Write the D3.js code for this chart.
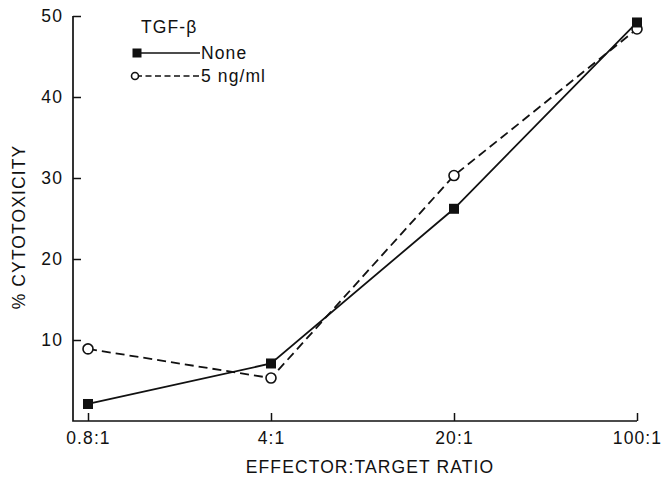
<!DOCTYPE html>
<html>
<head>
<meta charset="utf-8">
<script src="https://cdn.jsdelivr.net/npm/d3@7"></script>
<style>
  body { margin: 0; background: #fff; }
  svg { display: block; font-family: "Liberation Sans", Arial, Helvetica, sans-serif; }
</style>
</head>
<body>
<svg id="chart"></svg>
<script>
const width = 663;
const height = 481;

// categories on the x axis
const ratios = ["0.8:1", "4:1", "20:1", "100:1"];
// % cytotoxicity
const noneValues = [2.1, 7.1, 26.2, 49.2];
const tgfValues = [8.9, 5.3, 30.3, 48.4];
const yTicks = [10, 20, 30, 40, 50];

const series = [
  { name: "None", values: noneValues, dash: null, marker: "square" },
  { name: "5 ng/ml", values: tgfValues, dash: "9,5", marker: "circle" }
];

const fontSize = 17.5;
const spacing = 1.1;

const margin = { left: 73, top: 16, right: 26, bottom: 61 };

const svg = d3.select("#chart")
  .attr("width", width)
  .attr("height", height)
  .attr("viewBox", [0, 0, width, height]);

// x is a point scale, the axis starts a bit left of the first point
const x = d3.scalePoint()
  .domain(ratios)
  .range([88, 637]);

const y = d3.scaleLinear()
  .domain([0, 50])
  .range([height - margin.bottom + 1, margin.top]);

const x0 = margin.left;
const yBase = y(0);

// ---- axes ----
const xAxis = svg.append("g")
  .attr("transform", `translate(0,${yBase})`)
  .call(d3.axisBottom(x).tickSizeInner(-8).tickSizeOuter(0).tickPadding(11));
xAxis.select(".domain").remove();

const yAxis = svg.append("g")
  .attr("transform", `translate(${x0},0)`)
  .call(d3.axisLeft(y).tickValues(yTicks).tickSizeInner(-8).tickSizeOuter(0).tickPadding(10));
yAxis.select(".domain").remove();

svg.selectAll(".tick line").attr("stroke", "#111").attr("stroke-width", 1.5);
svg.selectAll(".tick text")
  .attr("fill", "#111")
  .attr("font-size", fontSize)
  .attr("letter-spacing", spacing)
  .attr("font-family", "Liberation Sans, Arial, sans-serif");

// axis lines
svg.append("path")
  .attr("d", `M${x0},${y(50)}V${yBase}H${x(ratios[ratios.length - 1])}`)
  .attr("fill", "none")
  .attr("stroke", "#111")
  .attr("stroke-width", 1.7);

// axis titles
svg.append("text")
  .attr("x", 370)
  .attr("y", 473)
  .attr("text-anchor", "middle")
  .attr("font-size", fontSize)
  .attr("letter-spacing", spacing)
  .attr("fill", "#111")
  .text("EFFECTOR:TARGET RATIO");

svg.append("text")
  .attr("transform", `translate(25,${227}) rotate(-90)`)
  .attr("text-anchor", "middle")
  .attr("font-size", fontSize)
  .attr("letter-spacing", spacing)
  .attr("fill", "#111")
  .text("% CYTOTOXICITY");

// ---- lines ----
const line = d3.line()
  .x((d, i) => x(ratios[i]))
  .y(d => y(d));

series.forEach(s => {
  svg.append("path")
    .datum(s.values)
    .attr("d", line)
    .attr("fill", "none")
    .attr("stroke", "#111")
    .attr("stroke-width", 1.8)
    .attr("stroke-dasharray", s.dash);
});

// ---- markers ----
function drawMarker(g, type, cx, cy, size) {
  if (type === "square") {
    g.append("rect")
      .attr("x", cx - size / 2)
      .attr("y", cy - size / 2)
      .attr("width", size)
      .attr("height", size)
      .attr("fill", "#111");
  } else {
    g.append("circle")
      .attr("cx", cx)
      .attr("cy", cy)
      .attr("r", size / 2)
      .attr("fill", "#fff")
      .attr("stroke", "#111")
      .attr("stroke-width", 1.6);
  }
}

const markers = svg.append("g");
// circles first so the filled squares sit on top at 100:1
[series[1], series[0]].forEach(s => {
  s.values.forEach((v, i) => drawMarker(markers, s.marker, x(ratios[i]), y(v), 10));
});

// ---- legend ----
const legend = svg.append("g");
legend.append("text")
  .attr("x", 141)
  .attr("y", 33)
  .attr("font-size", fontSize)
  .attr("letter-spacing", spacing)
  .attr("fill", "#111")
  .text("TGF-β");

series.forEach((s, i) => {
  const ly = 53 + i * 23;
  legend.append("line")
    .attr("x1", 136).attr("x2", 200)
    .attr("y1", ly).attr("y2", ly)
    .attr("stroke", "#111")
    .attr("stroke-width", 1.6)
    .attr("stroke-dasharray", s.dash ? "6,3.5" : null);
  drawMarker(legend, s.marker, s.marker === "square" ? 137 : 135, ly, s.marker === "square" ? 9 : 7);
  legend.append("text")
    .attr("x", 201)
    .attr("y", ly + 6)
    .attr("font-size", fontSize)
    .attr("letter-spacing", spacing)
    .attr("fill", "#111")
    .text(s.name);
});
</script>
</body>
</html>
